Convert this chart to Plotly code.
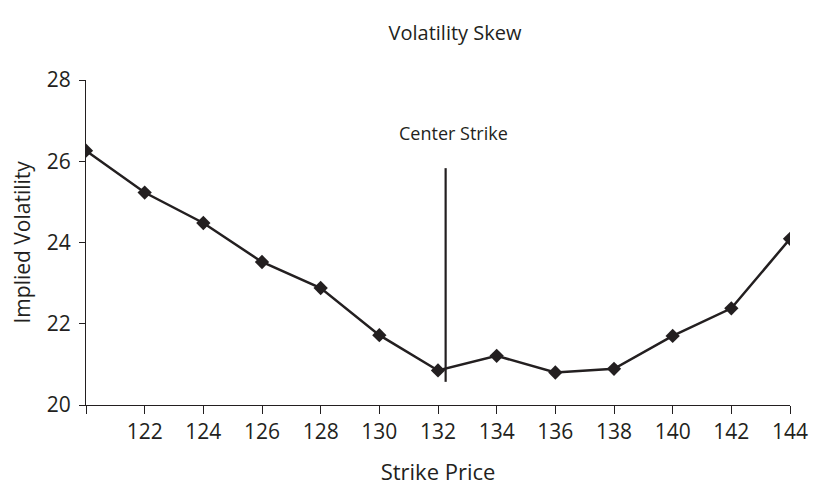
import plotly.graph_objects as go

# Strike prices and implied volatility readings
strikes = [120, 122, 124, 126, 128, 130, 132, 134, 136, 138, 140, 142, 144]
implied_vol = [26.26, 25.23, 24.48, 23.52, 22.88, 21.72, 20.85, 21.21, 20.80, 20.89, 21.70, 22.38, 24.09]

# Marker for the center strike
center_strike_x = [132.26, 132.26]
center_strike_y = [20.57, 25.83]

x_tickvals = [120, 122, 124, 126, 128, 130, 132, 134, 136, 138, 140, 142, 144]
x_ticktext = [""] + [str(v) for v in x_tickvals[1:]]
y_tickvals = [20, 22, 24, 26, 28]

FONT = "Open Sans"
INK = "#231f20"

fig = go.Figure()

fig.add_trace(go.Scatter(
    x=strikes, y=implied_vol, mode="lines+markers",
    line=dict(color=INK, width=2.5),
    marker=dict(symbol="diamond", size=11, color=INK),
    showlegend=False, hoverinfo="x+y",
))

fig.add_trace(go.Scatter(
    x=center_strike_x, y=center_strike_y, mode="lines",
    line=dict(color=INK, width=2.2),
    showlegend=False, hoverinfo="skip",
))

fig.add_annotation(
    x=132.26, y=26.7, xref="x", yref="y", xshift=8, text="Center Strike",
    showarrow=False, font=dict(family=FONT, size=18, color=INK),
)

# Vertical y-axis title, placed a little further out than the default
fig.add_annotation(
    x=0, y=0.5, xref="paper", yref="paper", xshift=-65, text="Implied Volatility",
    textangle=-90, showarrow=False, xanchor="center", yanchor="middle",
    font=dict(family=FONT, size=21, color=INK),
)

fig.update_layout(
    width=817, height=486,
    margin=dict(l=86, r=27, t=80, b=81),
    paper_bgcolor="white", plot_bgcolor="white",
    font=dict(family=FONT, color=INK),
    title=dict(text="Volatility Skew", x=0.557, xanchor="center", y=0.932, yanchor="middle",
               font=dict(family=FONT, size=20, color=INK)),
    xaxis=dict(
        range=[120, 144], tickvals=x_tickvals, ticktext=x_ticktext, automargin=False,
        showline=True, linecolor=INK, linewidth=1.2, showgrid=False, zeroline=False,
        ticks="outside", ticklen=8, tickwidth=1.2, tickcolor=INK,
        tickfont=dict(family=FONT, size=21, color=INK),
        title=dict(text="Strike Price", font=dict(family=FONT, size=22, color=INK), standoff=20),
    ),
    yaxis=dict(
        range=[20, 28], tickvals=y_tickvals, automargin=False,
        showline=True, linecolor=INK, linewidth=1.2, showgrid=False, zeroline=False,
        ticks="outside", ticklen=6, tickwidth=1.2, tickcolor=INK, ticklabelstandoff=4,
        tickfont=dict(family=FONT, size=21, color=INK),
    ),
)

fig.write_html("out.html")
